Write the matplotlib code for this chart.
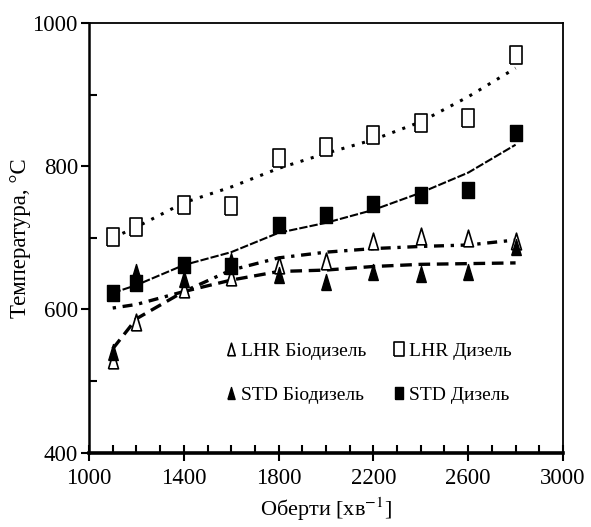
import numpy as np
import matplotlib.pyplot as plt
from matplotlib.ticker import MultipleLocator

plt.rcParams['font.family'] = ['Liberation Serif', 'DejaVu Serif']
plt.rcParams['mathtext.fontset'] = 'stix'

# Оберти, хв^-1
rpm = [1100, 1200, 1400, 1600, 1800, 2000, 2200, 2400, 2600, 2800]

# виміряні температури, °C
lhr_diesel = [701, 715, 746, 745, 812, 827, 844, 860, 867, 955]
std_diesel = [623, 637, 662, 660, 718, 732, 747, 760, 767, 846]
lhr_bio = [530, 583, 628, 645, 662, 667, 696, 702, 700, 695]
std_bio = [541, 652, 642, 668, 648, 638, 652, 650, 652, 687]

# лінії тренду
lhr_diesel_fit = [700, 715, 749, 771, 797, 818, 837, 862, 897, 937]
std_diesel_fit = [623, 634, 662, 680, 707, 721, 739, 763, 791, 830]
lhr_bio_fit = [602, 607, 625, 655, 672, 680, 685, 688, 690, 697]
std_bio_fit = [545, 587, 625, 641, 653, 655, 660, 663, 664, 665]

x_ticks = [1000, 1400, 1800, 2200, 2600, 3000]
y_ticks = [400, 600, 800, 1000]

sq = [(-0.7, -1), (0.7, -1), (0.7, 1), (-0.7, 1), (-0.7, -1)]
tri = [(-0.6, -1), (0.6, -1), (0, 1), (-0.6, -1)]

fig = plt.figure(figsize=(5.91, 5.27), dpi=100)
ax = fig.add_axes([0.1506, 0.141, 0.802, 0.8154])

ax.plot(rpm, lhr_diesel_fit, color='black', lw=2.2, linestyle=(0, (1, 2.5)))
ax.plot(rpm, std_diesel_fit, color='black', lw=1.5, linestyle=(0, (4, 1)))
ax.plot(rpm, lhr_bio_fit, color='black', lw=2.4, linestyle=(0, (1, 2, 3, 2)))
ax.plot(rpm, std_bio_fit, color='black', lw=2.4, linestyle=(0, (3.5, 2)))

h1, = ax.plot(rpm, lhr_bio, ls='none', marker=tri, ms=12, mfc='white', mec='black', mew=1.2)
h2, = ax.plot(rpm, std_bio, ls='none', marker=tri, ms=11.5, mfc='black', mec='black')
h3, = ax.plot(rpm, lhr_diesel, ls='none', marker=sq, ms=13, mfc='white', mec='black', mew=1.2)
h4, = ax.plot(rpm, std_diesel, ls='none', marker=sq, ms=12, mfc='black', mec='black')

ax.legend([h1, h2, h3, h4],
          ['LHR Біодизель', 'STD Біодизель', 'LHR Дизель', 'STD Дизель'],
          ncol=2, frameon=False, fontsize=14, loc='center left',
          bbox_to_anchor=(0.25, 0.185), handlelength=0.6, handletextpad=0.2,
          columnspacing=1.4, labelspacing=1.35, markerscale=0.75)

ax.set_xlim(1000, 3000)
ax.set_ylim(400, 1000)
ax.set_xticks(x_ticks)
ax.set_yticks(y_ticks)
ax.xaxis.set_minor_locator(MultipleLocator(100))
ax.yaxis.set_minor_locator(MultipleLocator(100))
ax.tick_params(axis='x', which='major', direction='inout', length=12, width=1.5, labelsize=16.5, pad=5)
ax.tick_params(axis='x', which='minor', direction='in', length=6, width=1.5)
ax.tick_params(axis='y', which='major', direction='out', length=6, width=1.5, labelsize=16.5, pad=2)
ax.tick_params(axis='y', which='minor', direction='in', length=6, width=1.5)

ax.spines['left'].set_linewidth(1.8)
ax.spines['bottom'].set_linewidth(2.6)
ax.spines['top'].set_linewidth(1.3)
ax.spines['right'].set_linewidth(1.3)

ax.set_xlabel('Оберти [хв$^{-1}$]', fontsize=16, labelpad=5)
ax.set_ylabel('Температура, °C', fontsize=16.5, labelpad=1)

fig.savefig('out.png', dpi=100)
